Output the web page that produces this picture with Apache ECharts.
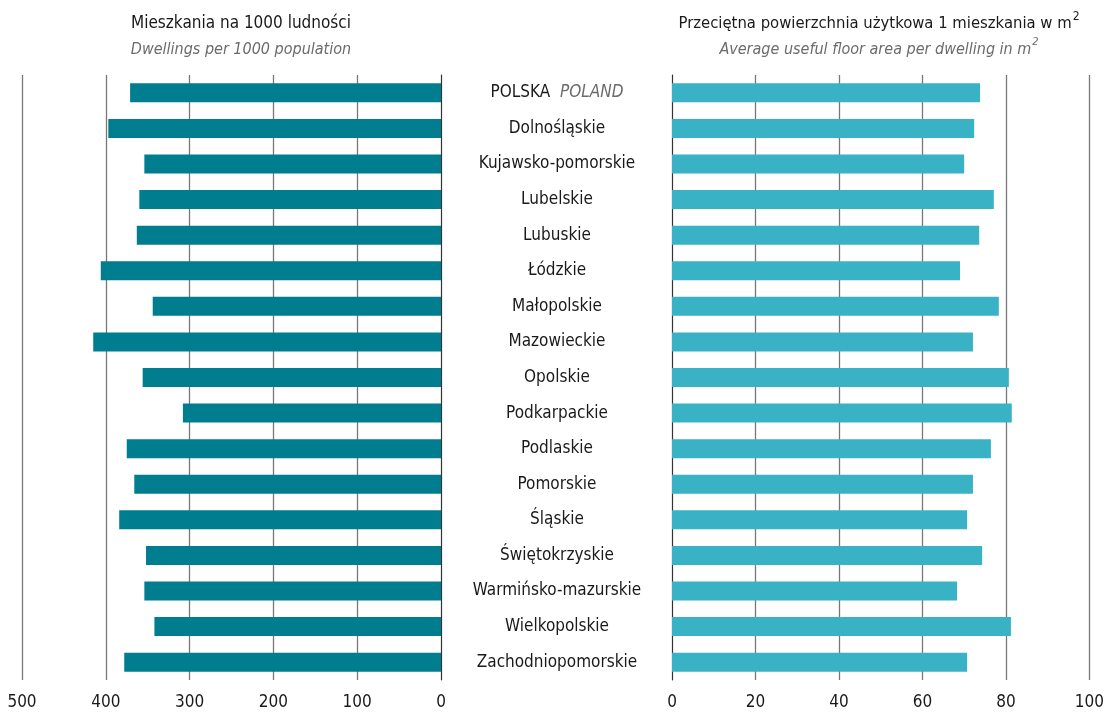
<!DOCTYPE html>
<html>
<head>
<meta charset="utf-8">
<script src="https://cdn.jsdelivr.net/npm/echarts@6/dist/echarts.min.js"></script>
<style>
  html, body { margin: 0; padding: 0; background: #fff; }
  #chart { width: 1107px; height: 716px; }
</style>
</head>
<body>
<div id="chart"></div>
<script>
const regions = ['POLSKA', 'Dolnośląskie', 'Kujawsko-pomorskie', 'Lubelskie', 'Lubuskie', 'Łódzkie',
    'Małopolskie', 'Mazowieckie', 'Opolskie', 'Podkarpackie', 'Podlaskie', 'Pomorskie', 'Śląskie',
    'Świętokrzyskie', 'Warmińsko-mazurskie', 'Wielkopolskie', 'Zachodniopomorskie']
const dwellings = [371, 397, 354, 360, 363, 406, 344, 415, 356, 308, 375, 366, 384, 352, 354, 342, 378]
const floorArea = [73.8, 72.4, 70.0, 77.1, 73.6, 69.0, 78.3, 72.1, 80.7, 81.4, 76.4, 72.1, 70.7, 74.3, 68.3, 81.2, 70.7]

const font = '"DejaVu Sans Condensed", "Liberation Sans Narrow", "Noto Sans", sans-serif'
const grid = '#777'

let chart = echarts.init(document.getElementById('chart'))

let option = {
    animation: false,
    textStyle: { fontFamily: font },
    title: [
        {
            text: '{a|Mieszkania na 1000 ludności}\n{b|Dwellings per 1000 population}',
            left: 236, top: 6, textAlign: 'center',
            textStyle: {
                fontWeight: 'normal',
                rich: {
                    a: { fontFamily: font, fontSize: 17, fontWeight: 'normal', color: '#1a1a1a', lineHeight: 26, align: 'center' },
                    b: { fontFamily: font, fontSize: 16, fontWeight: 'normal', color: '#6b6b6b', fontStyle: 'italic', lineHeight: 26, align: 'center' }
                }
            }
        },
        {
            text: '{a|Przeciętna powierzchnia użytkowa 1 mieszkania w m}{as|2}\n{b|Average useful floor area per dwelling in m}{bs|2}',
            left: 874, top: 6, textAlign: 'center',
            textStyle: {
                fontWeight: 'normal',
                rich: {
                    a: { fontFamily: font, fontSize: 16.5, fontWeight: 'normal', color: '#1a1a1a', lineHeight: 26 },
                    as: { fontFamily: font, fontSize: 12, fontWeight: 'normal', color: '#1a1a1a', verticalAlign: 'top', lineHeight: 26, padding: [0, 0, 10, 1] },
                    b: { fontFamily: font, fontSize: 16, fontWeight: 'normal', color: '#6b6b6b', fontStyle: 'italic', lineHeight: 26 },
                    bs: { fontFamily: font, fontSize: 11, fontWeight: 'normal', color: '#6b6b6b', fontStyle: 'italic', verticalAlign: 'top', lineHeight: 26, padding: [0, 0, 10, 1] }
                }
            }
        }
    ],
    grid: [
        { left: 22, width: 419, top: 75, height: 605 },
        { left: 672, width: 420, top: 75, height: 605 }
    ],
    xAxis: [
        {
            gridIndex: 0, type: 'value', min: 0, max: 500, interval: 100, inverse: true,
            axisLine: { show: false }, axisTick: { show: false },
            axisLabel: { color: '#1a1a1a', fontSize: 17, margin: 14, fontFamily: font },
            splitLine: { lineStyle: { color: grid, width: 1.3 } }
        },
        {
            gridIndex: 1, type: 'value', min: 0, max: 100, interval: 20,
            axisLine: { show: false }, axisTick: { show: false },
            axisLabel: { color: '#1a1a1a', fontSize: 17, margin: 14, fontFamily: font },
            splitLine: { lineStyle: { color: grid, width: 1.3 } }
        }
    ],
    yAxis: [
        {
            gridIndex: 0, type: 'category', data: regions, inverse: true, position: 'right',
            axisLine: { show: true, lineStyle: { color: '#333', width: 1 } },
            axisTick: { show: false },
            axisLabel: {
                align: 'center', margin: 116, fontSize: 17, color: '#1a1a1a', fontFamily: font,
                formatter: v => v === 'POLSKA' ? '{p|POLSKA}  {e|POLAND}' : v,
                rich: {
                    p: { fontSize: 17, color: '#1a1a1a', fontFamily: font },
                    e: { fontSize: 17, color: '#6b6b6b', fontStyle: 'italic', fontFamily: font }
                }
            }
        },
        {
            gridIndex: 1, type: 'category', data: regions, inverse: true,
            axisLine: { show: true, lineStyle: { color: '#333', width: 1 } },
            axisTick: { show: false },
            axisLabel: { show: false }
        }
    ],
    series: [
        {
            name: 'dwellings', type: 'bar', xAxisIndex: 0, yAxisIndex: 0,
            data: dwellings, barWidth: 19, itemStyle: { color: '#007d8f' }
        },
        {
            name: 'floorArea', type: 'bar', xAxisIndex: 1, yAxisIndex: 1,
            data: floorArea, barWidth: 19, itemStyle: { color: '#3ab2c6' }
        }
    ]
}

chart.setOption(option)
</script>
</body>
</html>
